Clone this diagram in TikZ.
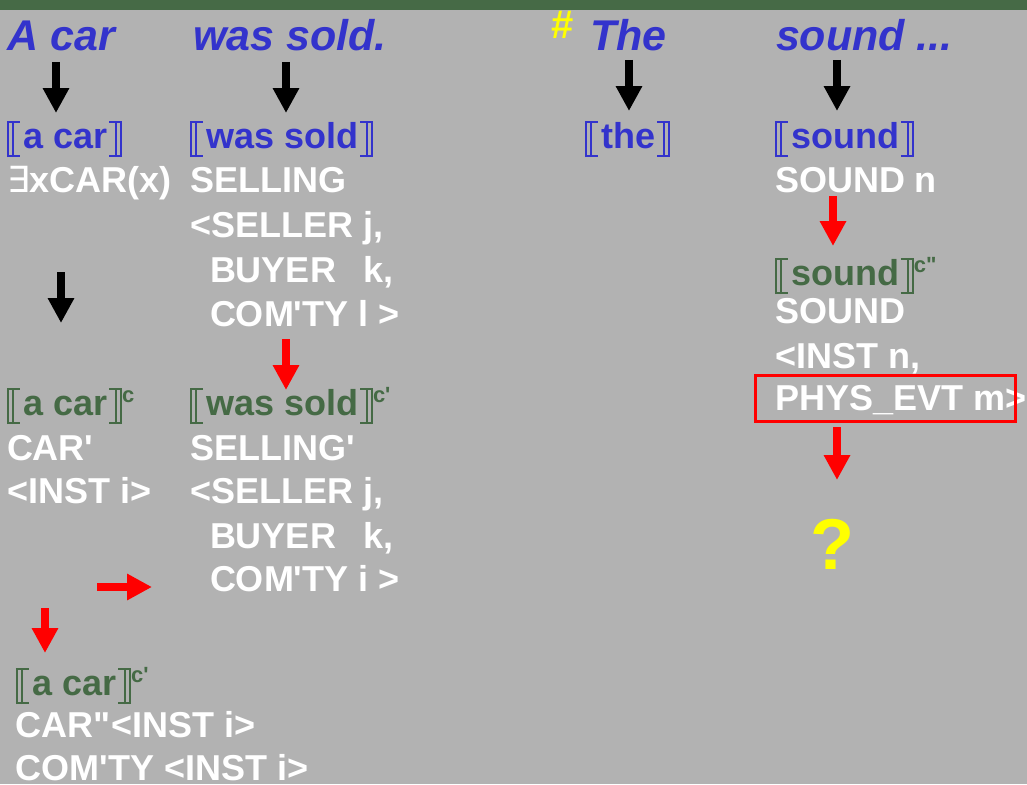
\documentclass[tikz,border=0pt]{standalone}
\usepackage{fontspec}
\newfontfamily\arial{Liberation Sans}
\newfontfamily\dejavu{DejaVu Sans}
\usetikzlibrary{arrows.meta}
\definecolor{bgray}{RGB}{178,178,178}
\definecolor{band}{RGB}{70,106,70}
\definecolor{tgreen}{RGB}{69,106,69}
\definecolor{tblue}{RGB}{51,51,204}
\definecolor{tred}{RGB}{255,0,0}
\definecolor{tyellow}{RGB}{255,255,0}
\newcommand\LB{\rlap{\rule[-0.25em]{0.36em}{0.045em}}\rlap{\rule[0.705em]{0.36em}{0.045em}}\rule[-0.25em]{0.045em}{1em}\kern0.1em\rule[-0.25em]{0.045em}{1em}\kern0.26em}
\newcommand\RB{\kern0.05em\rlap{\rule[-0.25em]{0.36em}{0.045em}}\rlap{\rule[0.705em]{0.36em}{0.045em}}\kern0.17em\rule[-0.25em]{0.045em}{1em}\kern0.1em\rule[-0.25em]{0.045em}{1em}}
\newcommand\supc[1]{\raisebox{13pt}{\fontsize{22}{22}\selectfont #1}}
\begin{document}
\begin{tikzpicture}[x=1pt,y=-1pt,
  txt/.style={anchor=base west,inner sep=0pt,outer sep=0pt,font=\arial\bfseries\fontsize{36}{44}\selectfont},
  ttl/.style={anchor=base west,inner sep=0pt,outer sep=0pt,text=tblue,font=\arial\bfseries\itshape\fontsize{43}{50}\selectfont},
  wht/.style={txt,text=white},
  blu/.style={txt,text=tblue},
  grn/.style={txt,text=tgreen},
  blk/.style={draw=black,line width=8pt,line cap=butt,-{Triangle[length=25pt,width=25pt]}},
  redarr/.style={draw=tred,line width=8pt,line cap=butt,-{Triangle[length=25pt,width=25pt]}},
  hilite/.style={draw=tred,line width=3pt}]
\useasboundingbox (0,0) rectangle (1027,784);
\clip (0,0) rectangle (1027,784);
\fill[bgray] (0,0) rectangle (1027,784);
\fill[band] (0,0) rectangle (1027,10.5);
% titles
\node[ttl] (tA) at (8,51) {A car};
\node[ttl] (tW) at (193,51) {was sold.};
\node[anchor=base west,inner sep=0pt,text=tyellow,font=\arial\bfseries\fontsize{40}{40}\selectfont] (hash) at (551,38) {\#};
\node[ttl] (tT) at (590,51) {The};
\node[ttl] (tS) at (776,51) {sound ...};
% black arrows
\coordinate (a1s) at (56,62); \coordinate (a1e) at (56,113);
\coordinate (a2s) at (286,62); \coordinate (a2e) at (286,113);
\coordinate (a3s) at (629,60); \coordinate (a3e) at (629,111);
\coordinate (a4s) at (837,60); \coordinate (a4e) at (837,111);
\coordinate (a5s) at (61,272); \coordinate (a5e) at (61,323);
\draw[blk] (a1s) -- (a1e);
\draw[blk] (a2s) -- (a2e);
\draw[blk] (a3s) -- (a3e);
\draw[blk] (a4s) -- (a4e);
\draw[blk] (a5s) -- (a5e);
% row 2
\node[blu] (b1) at (7,148) {\LB a car\RB};
\node[txt,text=white] (l1) at (7,192) {{\dejavu\mdseries ∃}xCAR(x)};
\node[blu] (b2) at (190,148) {\LB was sold\RB};
\node[wht] (s1) at (190,192) {SELLING};
\node[wht] (s2) at (190,237) {<SELLER j,};
\node[wht] (s3) at (210,282) {BUYER\hspace{0.48em} k,};
\node[wht] (s4) at (210,326) {COM'TY l >};
\node[blu] (b3) at (585,148) {\LB the\RB};
\node[blu] (b4) at (775,148) {\LB sound\RB};
\node[wht] (n1) at (775,192) {SOUND n};
% row 3
\node[grn] (g1) at (7,415) {\LB a car\RB\supc{c}};
\node[wht] (c1) at (7,460) {CAR'};
\node[wht] (c2) at (7,503) {<INST i>};
\node[grn] (g2) at (190,415) {\LB was sold\RB\supc{c'}};
\node[wht] (w1) at (190,460) {SELLING'};
\node[wht] (w2) at (190,503) {<SELLER j,};
\node[wht] (w3) at (210,548) {BUYER\hspace{0.48em} k,};
\node[wht] (w4) at (210,591) {COM'TY i >};
% sound column
\node[grn] (g3) at (775,285) {\LB sound\RB\supc{c"}};
\node[wht] (d1) at (775,323) {SOUND};
\node[wht] (d2) at (775,368) {<INST n,};
\node[wht] (d3) at (775,410) {PHYS\_EVT m>};
\draw[hilite] (755,375) rectangle (1015,421);
\node[anchor=base west,inner sep=0pt,text=tyellow,font=\arial\bfseries\fontsize{72}{72}\selectfont] (q) at (810,569) {?};
% row 4
\node[grn] (g4) at (16,695) {\LB a car\RB\supc{c'}};
\node[wht] (e1) at (16,737) {CAR"<INST i>};
\node[wht] (e2) at (16,780) {COM'TY <INST i>};
% red arrows
\coordinate (r1s) at (286,339); \coordinate (r1e) at (286,390);
\coordinate (r2s) at (833,196); \coordinate (r2e) at (833,246);
\coordinate (r3s) at (837,427); \coordinate (r3e) at (837,480);
\coordinate (r4s) at (97,587); \coordinate (r4e) at (152,587);
\coordinate (r5s) at (45,608); \coordinate (r5e) at (45,653);
\draw[redarr] (r1s) -- (r1e);
\draw[redarr] (r2s) -- (r2e);
\draw[redarr] (r3s) -- (r3e);
\draw[redarr] (r4s) -- (r4e);
\draw[redarr] (r5s) -- (r5e);
\end{tikzpicture}
\end{document}
